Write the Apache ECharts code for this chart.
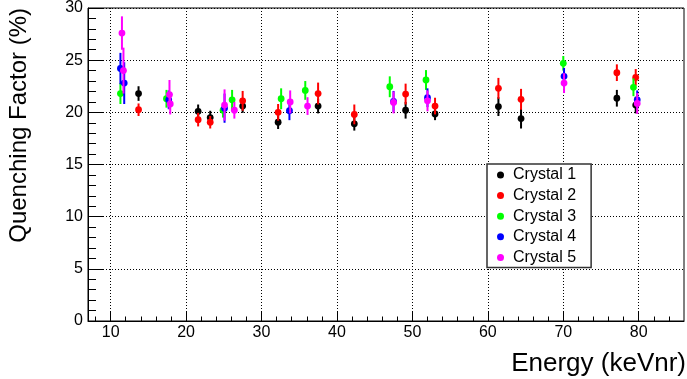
<!DOCTYPE html>
<html><head><meta charset="utf-8">
<script src="https://cdn.jsdelivr.net/npm/echarts@6.0.0/dist/echarts.min.js"></script>
<style>html,body{margin:0;padding:0;background:#fff}#c{width:687px;height:379px}</style>
</head><body><div id="c"></div>
<script>
const crystalNames = ['Crystal 1', 'Crystal 2', 'Crystal 3', 'Crystal 4', 'Crystal 5'];
const crystalColors = ['#000000', '#ff0000', '#00ff00', '#0000ff', '#ff00ff'];

const c1Energy = [13.7, 21.6, 23.2, 27.5, 32.2, 37.5, 42.3, 49.1, 53.0, 61.4, 64.4, 77.1, 79.6];
const c1QF     = [21.8, 20.1, 19.5, 20.6, 19.05, 20.6, 18.9, 20.2, 19.85, 20.55, 19.4, 21.35, 20.7];
const c1Err    = [0.7, 0.65, 0.65, 0.65, 0.65, 0.7, 0.65, 0.8, 0.6, 0.9, 0.95, 0.8, 0.8];

const c2Energy = [13.7, 21.6, 23.2, 27.5, 32.2, 37.5, 42.3, 49.1, 53.0, 61.4, 64.4, 77.1, 79.6];
const c2QF     = [20.25, 19.3, 19.05, 21.1, 20.0, 21.8, 19.8, 21.75, 20.6, 22.3, 21.25, 23.8, 23.35];
const c2Err    = [0.6, 0.65, 0.6, 0.95, 0.8, 1.05, 0.95, 1.0, 0.8, 1.0, 1.0, 0.8, 0.8];

const c3Energy = [11.3, 17.4, 24.9, 26.1, 32.6, 35.8, 47.0, 51.8, 70.0, 79.3];
const c3QF     = [21.8, 21.3, 20.2, 21.2, 21.3, 22.1, 22.45, 23.1, 24.7, 22.4];
const c3Err    = [1.0, 0.85, 0.7, 0.95, 1.0, 0.9, 1.0, 0.95, 0.7, 0.85];

const c4Energy = [11.3, 11.8, 17.7, 25.1, 33.7, 47.5, 52.0, 70.1, 79.8];
const c4QF     = [24.2, 22.8, 21.2, 20.4, 20.15, 21.05, 21.4, 23.45, 21.2];
const c4Err    = [1.5, 2.0, 0.9, 1.4, 0.9, 1.0, 0.9, 0.8, 0.9];

const c5Energy = [11.5, 11.7, 17.8, 17.9, 25.1, 26.4, 33.8, 36.1, 47.5, 52.0, 70.1, 79.8];
const c5QF     = [27.6, 24.0, 21.7, 20.8, 20.7, 20.2, 21.0, 20.6, 20.95, 21.1, 22.8, 20.85];
const c5Err    = [1.6, 2.2, 1.4, 1.0, 1.5, 0.8, 1.1, 0.85, 1.05, 1.0, 0.95, 1.0];

const xMajorTicks = [10, 20, 30, 40, 50, 60, 70, 80];
const xMinorTicks = [8, 12, 14, 16, 18, 22, 24, 26, 28, 32, 34, 36, 38, 42, 44, 46, 48, 52, 54, 56, 58, 62, 64, 66, 68, 72, 74, 76, 78, 82, 84];
const xTitle = 'Energy (keVnr)';
const yTitle = 'Quenching Factor (%)';

const FONT = "'Liberation Sans', Arial, Helvetica, sans-serif";
const allEnergy = [c1Energy, c2Energy, c3Energy, c4Energy, c5Energy];
const allQF = [c1QF, c2QF, c3QF, c4QF, c5QF];
const allErr = [c1Err, c2Err, c3Err, c4Err, c5Err];

function makeSeries(i) {
  const color = crystalColors[i];
  return {
    name: crystalNames[i],
    type: 'custom',
    xAxisIndex: 0, yAxisIndex: 0,
    itemStyle: { color: color },
    encode: { x: 0, y: 1 },
    data: allEnergy[i].map((e, k) => [e, allQF[i][k], allErr[i][k]]),
    renderItem: function (params, api) {
      const x = api.value(0), y = api.value(1), er = api.value(2);
      const top = api.coord([x, y + er]);
      const bot = api.coord([x, y - er]);
      const c = api.coord([x, y]);
      return {
        type: 'group',
        children: [
          { type: 'line', shape: { x1: top[0], y1: top[1], x2: bot[0], y2: bot[1] }, style: { stroke: color, lineWidth: 2 } },
          { type: 'circle', shape: { cx: c[0], cy: c[1], r: 3.4 }, style: { fill: color } }
        ]
      };
    }
  };
}

const chart = echarts.init(document.getElementById('c'), null, { renderer: 'canvas' });
chart.setOption({
  animation: false,
  backgroundColor: '#ffffff',
  grid: { left: 88, top: 7, width: 596, height: 314, show: true, borderColor: '#000', borderWidth: 1, backgroundColor: 'transparent' },
  xAxis: [
    {
      type: 'value', min: 7, max: 86, position: 'bottom',
      axisLine: { onZero: false, lineStyle: { color: '#000', width: 1 } },
      axisTick: { inside: true, length: 9, customValues: xMajorTicks, lineStyle: { color: '#000', width: 1 } },
      axisLabel: { customValues: xMajorTicks, color: '#000', fontSize: 16, fontFamily: FONT, margin: 4 },
      splitLine: { show: true, lineStyle: { color: '#000', width: 1, type: [1, 2] } },
      minorTick: { show: false }
    },
    {
      type: 'value', min: 7, max: 86, position: 'bottom',
      axisLine: { show: false, onZero: false },
      axisTick: { inside: true, length: 4.5, customValues: xMinorTicks, lineStyle: { color: '#000', width: 1 } },
      axisLabel: { show: false },
      splitLine: { show: false }
    }
  ],
  yAxis: {
    type: 'value', min: 0, max: 30, interval: 5,
    axisLine: { show: true, onZero: false, lineStyle: { color: '#000', width: 1 } },
    axisTick: { show: true, inside: true, length: 16, lineStyle: { color: '#000', width: 1 } },
    minorTick: { show: true, splitNumber: 5, length: 8, lineStyle: { color: '#000', width: 1 } },
    axisLabel: { color: '#000', fontSize: 16, fontFamily: FONT, margin: 5 },
    splitLine: { show: true, lineStyle: { color: '#000', width: 1, type: [1, 2] } }
  },
  legend: {
    orient: 'vertical', left: 487, top: 164,
    padding: [3, 15, 2, 10], itemGap: 4.6,
    itemWidth: 7, itemHeight: 7, icon: 'circle',
    backgroundColor: '#ffffff', borderColor: '#333', borderWidth: 1.5, borderRadius: 0,
    textStyle: { color: '#000', fontSize: 16, fontFamily: FONT, padding: [0, 0, 0, 4] },
    data: crystalNames
  },
  graphic: [
    { type: 'text', x: 686, y: 363.5, style: { text: xTitle, fill: '#000', font: '26px ' + FONT, textAlign: 'right', textVerticalAlign: 'middle' } },
    { type: 'text', x: 19, y: 8, rotation: Math.PI / 2, style: { text: yTitle, fill: '#000', font: '24px ' + FONT, textAlign: 'right', textVerticalAlign: 'middle' } }
  ],
  series: [0, 1, 2, 3, 4].map(makeSeries)
});
</script>
</body></html>
